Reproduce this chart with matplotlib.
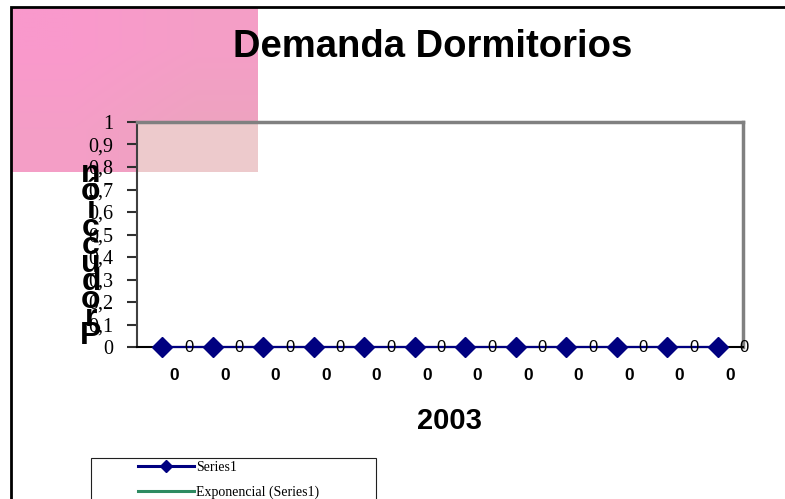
import numpy as np
import matplotlib
matplotlib.use("Agg")
import matplotlib.pyplot as plt
from matplotlib.patches import Rectangle
from matplotlib.lines import Line2D
from matplotlib.transforms import ScaledTranslation

# ── Data ──────────────────────────────────────────────────────────────────────
CATEGORIES  = ["0", "0", "0", "0", "0", "0", "0", "0", "0", "0", "0", "0"]
VALUES      = [0, 0, 0, 0, 0, 0, 0, 0, 0, 0, 0, 0]
DATA_LABELS = ["0", "0", "0", "0", "0", "0", "0", "0", "0", "0", "0", "0"]
Y_TICKS     = [0, 0.1, 0.2, 0.3, 0.4, 0.5, 0.6, 0.7, 0.8, 0.9, 1]
TITLE       = "Demanda Dormitorios"
X_LABEL     = "2003"
Y_LABEL     = "Producción"
SERIES_NAME = "Series1"
TREND_NAME  = "Exponencial (Series1)"

W, H = 785, 499
NAVY  = "#000080"
GREEN = "#2E8B62"


def fx(px):
    return px / W


def fy(py):
    return 1 - py / H


fig = plt.figure(figsize=(W / 100, H / 100), dpi=100)
fig.patch.set_facecolor("white")

# ── Pink picture block behind the top-left corner ─────────────────────────────
bg = fig.add_axes([fx(12), fy(172), fx(258) - fx(12), fy(8) - fy(172)], zorder=-2)
grad = np.array([[[0.98, 0.60, 0.80], [0.96, 0.62, 0.78]],
                 [[0.96, 0.62, 0.78], [0.93, 0.64, 0.75]]])
bg.imshow(grad, aspect="auto", interpolation="bilinear", extent=(0, 1, 0, 1))
bg.set_axis_off()

# outer chart frame (runs off the right / bottom edge)
fig.patches.append(Rectangle((fx(11), -0.2), 1.2, fy(7) + 0.2,
                             transform=fig.transFigure, fill=False,
                             edgecolor="black", linewidth=2, zorder=5))

# ── Plot area ─────────────────────────────────────────────────────────────────
ax = fig.add_axes([fx(137), fy(347), fx(743) - fx(137), fy(122) - fy(347)])
ax.set_facecolor("none")
ax.add_patch(Rectangle((0, (347 - 172) / 225), (258 - 137) / 606, 1 - (347 - 172) / 225,
                       transform=ax.transAxes, facecolor="#EDCACC",
                       edgecolor="none", zorder=0))

x = np.arange(len(VALUES)) + 0.5
ax.plot(x, VALUES, color=NAVY, linewidth=1.6, marker="D", markersize=10,
        markerfacecolor=NAVY, markeredgecolor=NAVY, zorder=4, clip_on=False)

for xi, yi, lab in zip(x, VALUES, DATA_LABELS):
    ax.annotate(lab, (xi, yi), xytext=(19, 0), textcoords="offset points",
                ha="center", va="center", fontsize=12, family="Liberation Sans",
                color="black", zorder=5, annotation_clip=False)

ax.set_xlim(0, len(VALUES))
ax.set_ylim(0, 1)

ax.set_xticks(x)
ax.set_xticklabels(CATEGORIES, fontsize=12.5, fontweight="bold", family="Liberation Sans")
ax.tick_params(axis="x", length=0, pad=15)
shift = ScaledTranslation(0.12, 0, fig.dpi_scale_trans)
for t in ax.get_xticklabels():
    t.set_transform(t.get_transform() + shift)

ax.set_yticks(Y_TICKS)
ax.set_yticklabels([f"{v:g}".replace(".", ",") for v in Y_TICKS],
                   fontsize=14.5, family="Liberation Serif")
ax.tick_params(axis="y", direction="out", length=7, width=1.5, pad=10,
               color="#303030")

ax.spines["top"].set_color("#808080")
ax.spines["top"].set_linewidth(2.5)
ax.spines["right"].set_color("#808080")
ax.spines["right"].set_linewidth(2.5)
ax.spines["left"].set_color("#404040")
ax.spines["left"].set_linewidth(1.5)
ax.spines["bottom"].set_color("black")
ax.spines["bottom"].set_linewidth(1.5)

# ── Texts ─────────────────────────────────────────────────────────────────────
fig.text(fx(433), fy(47), TITLE, ha="center", va="center", fontsize=27.5,
         fontweight="bold", family="Liberation Sans")
fig.text(fx(449), fy(421), X_LABEL, ha="center", va="center", fontsize=21,
         fontweight="bold", family="Liberation Sans")

# stacked y label, letters overlapping, read bottom to top
n = len(Y_LABEL)
for i, ch in enumerate(Y_LABEL):
    py = 336 - i * (336 - 174) / (n - 1)
    fig.text(fx(91), fy(py), ch, ha="center", va="center", fontsize=23,
             fontweight="bold", family="Liberation Sans", zorder=6)

# ── Legend ────────────────────────────────────────────────────────────────────
fig.patches.append(Rectangle((fx(91), -0.2), fx(376) - fx(91), fy(458) + 0.2,
                             transform=fig.transFigure, fill=False,
                             edgecolor="#202020", linewidth=0.8))
handles = [
    Line2D([], [], color=NAVY, linewidth=2.2, marker="D", markersize=6),
    Line2D([], [], color=GREEN, linewidth=2.2),
]
fig.legend(handles, [SERIES_NAME, TREND_NAME], loc="upper left",
           bbox_to_anchor=(fx(138), fy(461)), frameon=False, borderpad=0,
           borderaxespad=0, handlelength=4.0, handletextpad=0.15,
           labelspacing=0.8, prop={"family": "Liberation Serif", "size": 10})

fig.savefig("out.png", dpi=100)
